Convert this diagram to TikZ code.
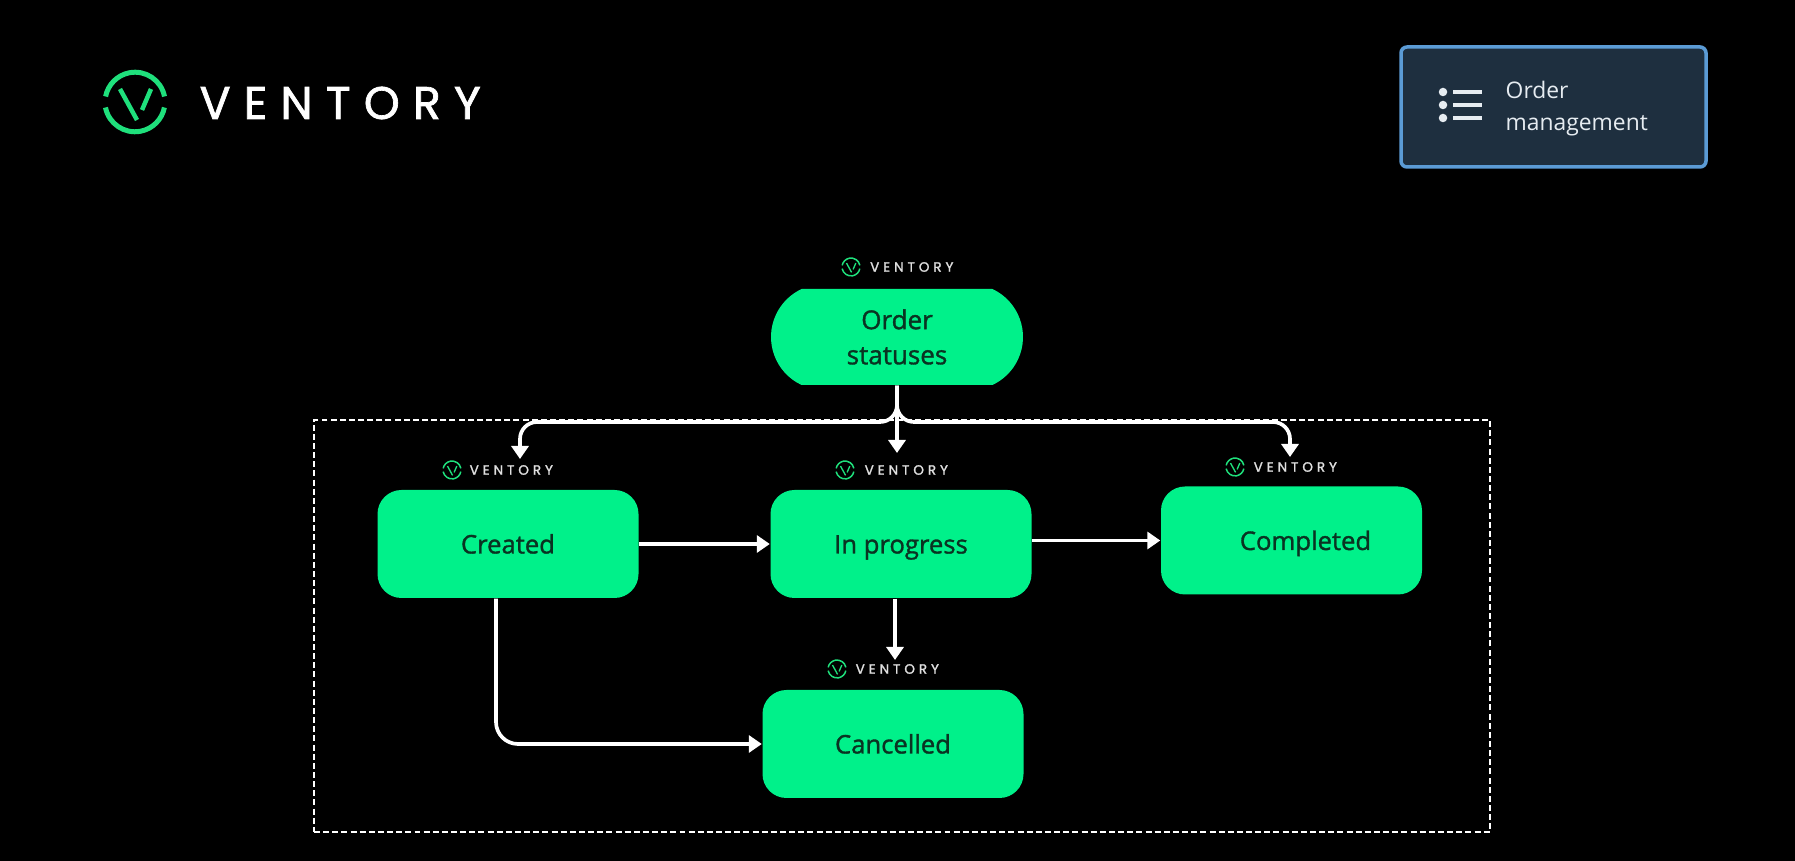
\documentclass[tikz,border=0pt]{standalone}
\usepackage{fontspec}
\usetikzlibrary{arrows.meta}
\usetikzlibrary{scopes}
\usetikzlibrary{shapes.misc}

\setmainfont{Open Sans}
\newfontfamily\labelfont[FakeBold=1.3]{Open Sans}
\newfontfamily\brandfont[LetterSpace=29,FakeBold=1.5]{Poppins}

\definecolor{statusgreen}{HTML}{00F18A}
\definecolor{markgreen}{HTML}{1FE07C}
\definecolor{labelink}{HTML}{0A3322}
\definecolor{panelfill}{HTML}{1E2F3F}
\definecolor{panelline}{HTML}{5B9BD5}
\definecolor{panelink}{HTML}{E6ECF1}

\tikzset{
  ventorymark/.pic={
    \begin{scope}[scale=#1]
      \draw [markgreen, line width=#1*0.5mm] (0.295,0.055) arc (11:169:0.30);
      \draw [markgreen, line width=#1*0.5mm] (-0.295,-0.055) arc (191:349:0.30);
      \draw [markgreen, line width=#1*0.45mm] (-0.15,0.13) -- (0.02,-0.18);
      \draw [markgreen, line width=#1*0.45mm] (0.16,0.13) -- (0.07,-0.08);
    \end{scope}
  },
  statusbox/.style={fill=statusgreen, text=labelink, rounded corners=0.24cm,
    minimum width=2.61cm, minimum height=1.08cm, inner sep=0pt,
    text height=0.24cm, text depth=0.05cm,
    font=\labelfont\fontsize{7.3}{10}\selectfont},
  brandbig/.style={anchor=west, inner sep=0pt, text=white,
    font=\brandfont\fontsize{13}{13}\selectfont},
  brandsmall/.style={anchor=west, inner sep=0pt, text=white!88!black,
    font=\brandfont\fontsize{3.85}{4}\selectfont},
}

\begin{document}
\begin{tikzpicture}
\fill [black] (0,0) rectangle (17.95,-8.61);
\useasboundingbox (0,0) rectangle (17.95,-8.61);

% header
\pic (markmain) at (1.35,-1.02) {ventorymark=1};
\node [brandbig] (wordmain) at (1.99,-1.03) {VENTORY};

\node [draw=panelline, fill=panelfill, line width=1pt, rounded corners=0.06cm,
       minimum width=3.05cm, minimum height=1.2cm] (panel) at (15.535,-1.07) {};
\node [anchor=west, align=left, inner sep=0pt, text=panelink,
       font=\fontsize{6.5}{9.1}\selectfont] (paneltext) at (15.05,-1.085) {Order\\management};
\foreach \row/\ypos in {a/-0.92, b/-1.05, c/-1.18} {
    \node [circle, fill=panelink, minimum size=0.085cm, inner sep=0pt] (dot\row) at (14.43,\ypos) {};
    \coordinate (bar\row) at (14.82,\ypos);
    \draw [panelink, line width=1pt] (14.53,\ypos) -- (bar\row);
}

% frame
\node [draw=white, dash pattern=on 1.7pt off 0.9pt, line width=0.5pt, minimum width=11.76cm,
       minimum height=4.12cm, inner sep=0pt] (frame) at (9.02,-6.26) {};

% statuses
\node [statusbox, rounded rectangle, rounded rectangle arc length=130, rounded corners=0pt,
       minimum width=2.52cm, minimum height=0.96cm, align=center, text height=, text depth=,
       font=\labelfont\fontsize{7.4}{10}\selectfont] (statuses) at (8.97,-3.37) {Order\\statuses};
\begin{scope}[every node/.style={statusbox}]
    \node (created) at (5.08,-5.44) {Created};
    \node (progress) at (9.01,-5.44) {In progress};
    \node (completed) at (12.915,-5.405) {\hspace*{0.28cm}Completed};
    \node (cancelled) at (8.93,-7.44) {Cancelled};
\end{scope}

% small logos
\pic (markstatuses) at (8.51,-2.67) {ventorymark=.3};
\node [brandsmall] (wordstatuses) at (8.695,-2.67) {VENTORY};
\pic (markcreated) at (4.52,-4.70) {ventorymark=.3};
\node [brandsmall] (wordcreated) at (4.69,-4.70) {VENTORY};
\pic (markprogress) at (8.45,-4.70) {ventorymark=.3};
\node [brandsmall] (wordprogress) at (8.64,-4.70) {VENTORY};
\pic (markcompleted) at (12.35,-4.67) {ventorymark=.3};
\node [brandsmall] (wordcompleted) at (12.53,-4.67) {VENTORY};
\pic (markcancelled) at (8.37,-6.69) {ventorymark=.3};
\node [brandsmall] (wordcancelled) at (8.55,-6.69) {VENTORY};

% arrow ends
\coordinate (tipcreated) at (5.20,-4.59);
\coordinate (tipmiddle) at (8.97,-4.53);
\coordinate (tipcompleted) at (12.90,-4.57);
\coordinate (tipcancelled) at (8.95,-6.60);
\coordinate (bendcancelled) at (4.96,-7.44);

\begin{scope}[>={Triangle[length=0.13cm,width=0.17cm]}, white, line width=1.05pt,
              every edge/.style={draw=white,line width=1.05pt}]
    \draw [->, rounded corners=0.17cm] (statuses.south) -- (8.97,-4.22) -- (5.20,-4.22) -- (tipcreated);
    \draw [->, rounded corners=0.17cm] (statuses.south) -- (8.97,-4.22) -- (12.90,-4.22) -- (tipcompleted);
    \path [->] (statuses.south) edge (tipmiddle);
    \path [->] (created) edge (progress);
    \path [->] (progress.east |- completed.west) edge (completed);
    \path [->] (tipcancelled |- progress.south) edge (tipcancelled);
    \draw [->, rounded corners=0.22cm] (bendcancelled |- created.south) -- (bendcancelled) -- (cancelled.west);
\end{scope}
\end{tikzpicture}
\end{document}
